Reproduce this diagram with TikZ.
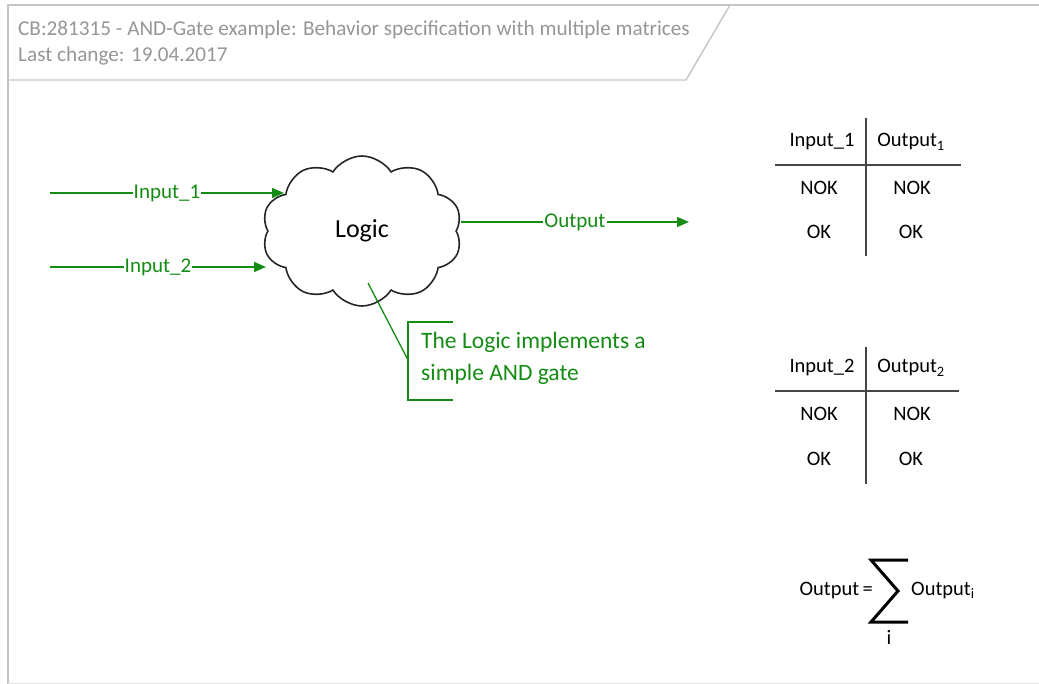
\documentclass[tikz,border=0pt]{standalone}
\usepackage{fontspec}
\setmainfont{Carlito}
\usetikzlibrary{shapes.symbols,arrows.meta}
\definecolor{framegray}{RGB}{196,196,196}
\definecolor{headgray}{RGB}{150,150,150}
\definecolor{flowgreen}{RGB}{20,140,20}
\definecolor{rulegray}{RGB}{70,70,70}
\begin{document}
\begin{tikzpicture}[x=1pt,y=-1pt,
  headtext/.style={anchor=west,text=headgray,font=\fontsize{21.2}{24}\selectfont,inner sep=0pt},
  flow/.style={draw=flowgreen,line width=1.6pt,-{Triangle[length=12pt,width=10pt]}},
  flowlabel/.style={midway,fill=white,text=flowgreen,inner sep=1pt,font=\fontsize{21}{24}\selectfont},
  cell/.style={inner sep=0pt,font=\fontsize{20.5}{24}\selectfont},
  tabrule/.style={draw=rulegray,line width=2pt},
  formula/.style={inner sep=0pt,font=\fontsize{20.5}{24}\selectfont}]
\useasboundingbox (0,0) rectangle (1039,684);

% drawing frame and header
\draw[framegray,line width=2.6pt] (8,684) -- (8,5) -- (1039,5);
\draw[framegray!50,line width=1pt] (8,683) -- (1039,683);
\draw[framegray,line width=1.4pt] (8,80) -- (686,80) -- (730,5);
\node[headtext] (title) at (18,30) {CB:281315 - AND-Gate example: Behavior specification with multiple matrices};
\node[headtext] (changed) at (18,56) {Last change: 19.04.2017};

% the logic block
\node[cloud,draw=black!85,line width=1.6pt,cloud puffs=10,cloud puff arc=115,
      cloud ignores aspect,minimum width=200pt,minimum height=150pt,
      font=\fontsize{26}{30}\selectfont] (logic) at (362,231) {Logic};

% signals
\coordinate (in1start) at (50,193);
\coordinate (in1end) at (284,193);
\coordinate (in2start) at (50,267);
\coordinate (in2end) at (266,267);
\coordinate (outstart) at (461,222);
\coordinate (outend) at (689,222);
\draw[flow] (in1start) -- (in1end) node[flowlabel] (in1label) {Input\_1};
\draw[flow] (in2start) -- (in2end) node[flowlabel] (in2label) {Input\_2};
\draw[flow] (outstart) -- (outend) node[flowlabel] (outlabel) {Output};

% comment attached to the logic block
\coordinate (notefoot) at (368,283);
\coordinate (notejoin) at (408,360);
\draw[flowgreen,line width=1.3pt] (notefoot) -- (notejoin);
\draw[flowgreen,line width=1.6pt] (453,322) -- (408,322) -- (408,400) -- (453,400);
\node[anchor=north west,text=flowgreen,align=left,inner sep=0pt,
      font=\fontsize{23.5}{32}\selectfont] (note) at (421,332)
      {The Logic implements a\\simple AND gate};

% first matrix
\draw[tabrule] (866,118) -- (866,256);
\draw[tabrule] (775,165) -- (961,165);
\node[cell] (h11) at (822,142) {Input\_1};
\node[cell] (h12) at (911,142) {Output\textsubscript{1}};
\node[cell] (a11) at (819,188) {NOK};
\node[cell] (a12) at (912,188) {NOK};
\node[cell] (b11) at (819,232) {OK};
\node[cell] (b12) at (911,232) {OK};

% second matrix
\draw[tabrule] (866,347) -- (866,484);
\draw[tabrule] (775,391) -- (959,391);
\node[cell] (h21) at (822,368) {Input\_2};
\node[cell] (h22) at (911,368) {Output\textsubscript{2}};
\node[cell] (a21) at (819,414) {NOK};
\node[cell] (a22) at (912,414) {NOK};
\node[cell] (b21) at (819,459) {OK};
\node[cell] (b22) at (911,459) {OK};

% total output as sum of partial outputs
\node[formula,anchor=east] (lhs) at (873,590) {Output\,=};
\draw[black,line width=3pt,miter limit=10]
  (908,560) -- (871,560) -- (898,591) -- (871,622) -- (908,622);
\node[formula,anchor=west] (rhs) at (911,590) {Output\textsubscript{i}};
\node[formula] (idx) at (889,637) {i};
\end{tikzpicture}
\end{document}
